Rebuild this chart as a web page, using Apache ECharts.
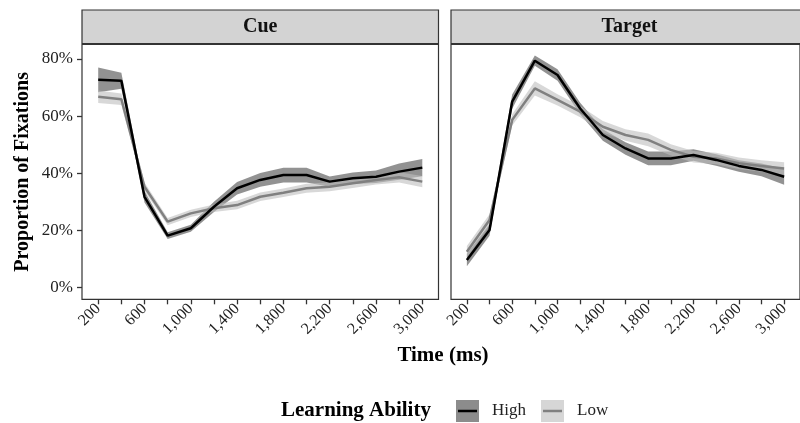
<!DOCTYPE html>
<html>
<head>
<meta charset="utf-8">
<script src="https://cdn.jsdelivr.net/npm/echarts@6/dist/echarts.min.js"></script>
<style>
html,body{margin:0;padding:0;background:#fff;}
#chart{width:800px;height:423px;}
</style>
</head>
<body>
<div id="chart"></div>
<script>
// ---- data (percent of fixations) ----
const panels = ['Cue', 'Target'];
const timeMs = [200, 400, 600, 800, 1000, 1200, 1400, 1600, 1800, 2000, 2200, 2400, 2600, 2800, 3000];
const xTickLabels = [200, 600, 1000, 1400, 1800, 2200, 2600, 3000];
const yTickLabels = [0, 20, 40, 60, 80];

const cueHigh    = [72.7, 72.4, 31.8, 18.2, 20.8, 28.3, 34.8, 37.7, 39.4, 39.4, 37.1, 38.3, 38.8, 40.6, 42.0];
const cueHighSE  = [4.3, 2.8, 2.0, 1.2, 1.2, 1.8, 2.2, 2.4, 2.6, 2.6, 1.8, 2.0, 2.2, 2.8, 3.0];
const cueLow     = [66.8, 65.9, 35.3, 23.1, 26.0, 27.8, 28.9, 31.8, 33.2, 34.8, 35.3, 36.5, 37.7, 38.6, 37.1];
const cueLowSE   = [2.2, 2.0, 1.5, 1.3, 1.3, 1.3, 1.5, 1.5, 1.5, 1.6, 1.6, 1.6, 1.6, 1.8, 2.0];

const targetHigh   = [9.7, 20.2, 65.1, 79.4, 74.4, 62.7, 53.4, 48.7, 45.2, 45.2, 46.4, 44.7, 42.6, 41.2, 38.8];
const targetHighSE = [2.2, 2.0, 2.5, 1.8, 2.0, 2.0, 2.0, 2.2, 2.4, 2.4, 2.0, 2.0, 2.0, 2.2, 2.8];
const targetLow    = [12.6, 23.7, 58.7, 69.7, 65.7, 61.6, 56.3, 53.4, 51.7, 48.2, 45.8, 45.2, 43.5, 42.6, 41.7];
const targetLowSE  = [2.0, 2.0, 2.0, 2.5, 2.0, 2.0, 2.0, 2.0, 2.2, 2.0, 2.0, 2.0, 2.0, 2.0, 2.2];

const groups = ['High', 'Low'];
// ---- styles ----
const FONT = 'Liberation Serif';
const ribbonColor = { High: 'rgba(110,110,110,0.75)', Low: 'rgba(190,190,190,0.6)' };
const lineColor = { High: '#000000', Low: '#808080' };

const gridDefs = [
  { left: 82, top: 44.5, width: 356.5, height: 254.8 },
  { left: 451, top: 44.5, width: 357, height: 254.8 }
];

function fmtThousands(v) {
  return String(Math.round(Number(v))).replace(/\B(?=(\d{3})+(?!\d))/g, ',');
}

function ribbon(idx, mean, se, color, z) {
  return {
    type: 'custom', xAxisIndex: idx, yAxisIndex: idx, silent: true, z: z,
    data: timeMs.map((t, i) => [t, mean[i] - se[i], mean[i] + se[i]]),
    encode: { x: 0, y: [1, 2] },
    renderItem: function (params, api) {
      if (params.dataIndex !== 0) return null;
      const top = [], bot = [];
      for (let i = 0; i < timeMs.length; i++) {
        top.push(api.coord([timeMs[i], mean[i] + se[i]]));
        bot.push(api.coord([timeMs[i], mean[i] - se[i]]));
      }
      return { type: 'polygon', shape: { points: top.concat(bot.reverse()) }, style: { fill: color } };
    }
  };
}
function line(idx, name, vals, color, z) {
  return {
    type: 'line', name: name, xAxisIndex: idx, yAxisIndex: idx, z: z,
    data: timeMs.map((t, i) => [t, vals[i]]),
    symbol: 'none', showSymbol: false, silent: true,
    lineStyle: { color: color, width: 2.5 }
  };
}

const series = [
  ribbon(0, cueHigh, cueHighSE, ribbonColor.High, 1),
  ribbon(0, cueLow, cueLowSE, ribbonColor.Low, 2),
  line(0, 'Low', cueLow, lineColor.Low, 3),
  line(0, 'High', cueHigh, lineColor.High, 4),
  ribbon(1, targetHigh, targetHighSE, ribbonColor.High, 1),
  ribbon(1, targetLow, targetLowSE, ribbonColor.Low, 2),
  line(1, 'Low', targetLow, lineColor.Low, 3),
  line(1, 'High', targetHigh, lineColor.High, 4)
];

const xAxes = gridDefs.map((g, i) => ({
  type: 'value', gridIndex: i, min: 60, max: 3140, position: 'bottom',
  axisLine: { show: false, onZero: false },
  splitLine: { show: false },
  axisTick: { show: true, length: 5, lineStyle: { color: '#333', width: 1.3 }, customValues: timeMs },
  axisLabel: {
    show: true, rotate: 45, margin: 7, fontFamily: FONT, fontSize: 16, color: '#222',
    customValues: xTickLabels, formatter: fmtThousands
  }
}));
const yAxes = gridDefs.map((g, i) => ({
  type: 'value', gridIndex: i, min: -4.06, max: 85.07, position: 'left',
  axisLine: { show: false, onZero: false },
  splitLine: { show: false },
  axisTick: { show: i === 0, length: 5, lineStyle: { color: '#333', width: 1.3 }, customValues: yTickLabels },
  axisLabel: { show: i === 0, margin: 9, fontFamily: FONT, fontSize: 17, color: '#222',
    customValues: yTickLabels, formatter: '{value}%' },
  name: i === 0 ? 'Proportion of Fixations' : '',
  nameLocation: 'middle', nameGap: 49,
  nameTextStyle: { fontFamily: FONT, fontWeight: 'bold', fontSize: 20, color: '#000' }
}));

const graphics = [];
panels.forEach((p, i) => {
  const g = gridDefs[i];
  graphics.push({
    type: 'rect', silent: true, z: 10,
    shape: { x: g.left, y: 10, width: g.width, height: 33.5 },
    style: { fill: '#d3d3d3', stroke: '#333', lineWidth: 1.2 }
  });
  graphics.push({
    type: 'text', silent: true, z: 11,
    x: g.left + g.width / 2, y: 27,
    style: { text: p, fontFamily: FONT, fontWeight: 'bold', fontSize: 20, fill: '#111',
      textAlign: 'center', textVerticalAlign: 'middle' }
  });
});
// x-axis title
graphics.push({
  type: 'text', silent: true, x: 443, y: 356,
  style: { text: 'Time (ms)', fontFamily: FONT, fontWeight: 'bold', fontSize: 21, fill: '#000',
    textAlign: 'center', textVerticalAlign: 'middle' }
});
// legend
graphics.push({
  type: 'text', silent: true, x: 281, y: 411,
  style: { text: 'Learning Ability', fontFamily: FONT, fontWeight: 'bold', fontSize: 21, fill: '#000',
    textAlign: 'left', textVerticalAlign: 'middle' }
});
const keyX = { High: 456, Low: 541 };
groups.forEach(gname => {
  const kx = keyX[gname];
  graphics.push({ type: 'rect', silent: true, shape: { x: kx, y: 400, width: 23, height: 22 },
    style: { fill: gname === 'High' ? '#8c8c8c' : '#d6d6d6' } });
  graphics.push({ type: 'line', silent: true, shape: { x1: kx + 2, y1: 411, x2: kx + 21, y2: 411 },
    style: { stroke: lineColor[gname], lineWidth: 2.5 } });
  graphics.push({ type: 'text', silent: true, x: kx + 36, y: 411,
    style: { text: gname, fontFamily: FONT, fontSize: 17, fill: '#222', textAlign: 'left', textVerticalAlign: 'middle' } });
});

const chart = echarts.init(document.getElementById('chart'), null, { renderer: 'canvas' });
chart.setOption({
  backgroundColor: '#ffffff',
  animation: false,
  grid: gridDefs.map(g => Object.assign({ show: true, borderColor: '#333', borderWidth: 1.2, backgroundColor: '#fff', containLabel: false }, g)),
  xAxis: xAxes,
  yAxis: yAxes,
  series: series,
  graphic: graphics
});
</script>
</body>
</html>
